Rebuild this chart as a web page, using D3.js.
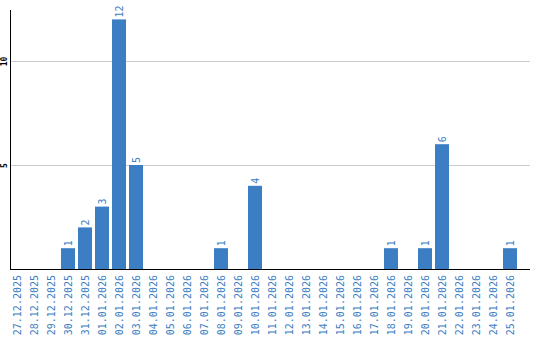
<!DOCTYPE html>
<html><head><meta charset="utf-8">
<script src="https://cdn.jsdelivr.net/npm/d3@7"></script>
<style>body{margin:0;background:#fff}svg{display:block}</style>
</head><body>
<svg id="c" width="540" height="340"></svg>
<script>
const categories = ["27.12.2025","28.12.2025","29.12.2025","30.12.2025","31.12.2025","01.01.2026","02.01.2026","03.01.2026","04.01.2026","05.01.2026","06.01.2026","07.01.2026","08.01.2026","09.01.2026","10.01.2026","11.01.2026","12.01.2026","13.01.2026","14.01.2026","15.01.2026","16.01.2026","17.01.2026","18.01.2026","19.01.2026","20.01.2026","21.01.2026","22.01.2026","23.01.2026","24.01.2026","25.01.2026"];
const values = [0,0,0,1,2,3,12,5,0,0,0,0,1,0,4,0,0,0,0,0,0,0,1,0,1,6,0,0,0,1];
const yTicks = [5,10];

const svg = d3.select("#c");
const blue = "#3b7ec3";
const mono = "'DejaVu Sans Mono', monospace";
const x = d3.scaleBand().domain(categories).range([10,517]).paddingInner(3/17).paddingOuter(0).align(0);
const y = d3.scaleLinear().domain([0,12.5]).range([269,9]);

// gridlines
svg.append("g").selectAll("line").data(yTicks).join("line")
  .attr("x1",11).attr("x2",530)
  .attr("y1",d=>Math.round(y(d))+0.5).attr("y2",d=>Math.round(y(d))+0.5)
  .attr("stroke","#cccccc").attr("stroke-width",1);

// y tick labels
svg.append("g").selectAll("text").data(yTicks).join("text")
  .attr("transform",d=>`translate(7,${Math.round(y(d))+0.5}) rotate(-90)`)
  .attr("text-anchor","middle")
  .attr("font-family",mono).attr("font-size",8).attr("font-weight","bold").attr("fill","#000")
  .text(d=>d);

// bars
svg.append("g").selectAll("rect").data(values).join("rect")
  .attr("x",(d,i)=>Math.round(x(categories[i])))
  .attr("width",Math.round(x.bandwidth()))
  .attr("y",d=>y(d)).attr("height",d=>y(0)-y(d))
  .attr("fill",blue);

// value labels
svg.append("g").selectAll("text").data(values.map((v,i)=>({v,i})).filter(d=>d.v>0)).join("text")
  .attr("transform",d=>`translate(${Math.round(x(categories[d.i]))+x.bandwidth()/2+3.5},${y(d.v)-2}) rotate(-90)`)
  .attr("font-family",mono).attr("font-size",10).attr("fill",blue)
  .text(d=>d.v);

// axes lines
svg.append("line").attr("x1",10.5).attr("x2",10.5).attr("y1",10).attr("y2",270).attr("stroke","#000");
svg.append("line").attr("x1",10).attr("x2",530).attr("y1",269.5).attr("y2",269.5).attr("stroke","#000");

// category labels
svg.append("g").selectAll("text").data(categories).join("text")
  .attr("transform",d=>`translate(${Math.round(x(d))+x.bandwidth()/2+3.5},275) rotate(-90)`)
  .attr("text-anchor","end")
  .attr("font-family",mono).attr("font-size",10).attr("fill",blue)
  .text(d=>d);
</script>
</body></html>
